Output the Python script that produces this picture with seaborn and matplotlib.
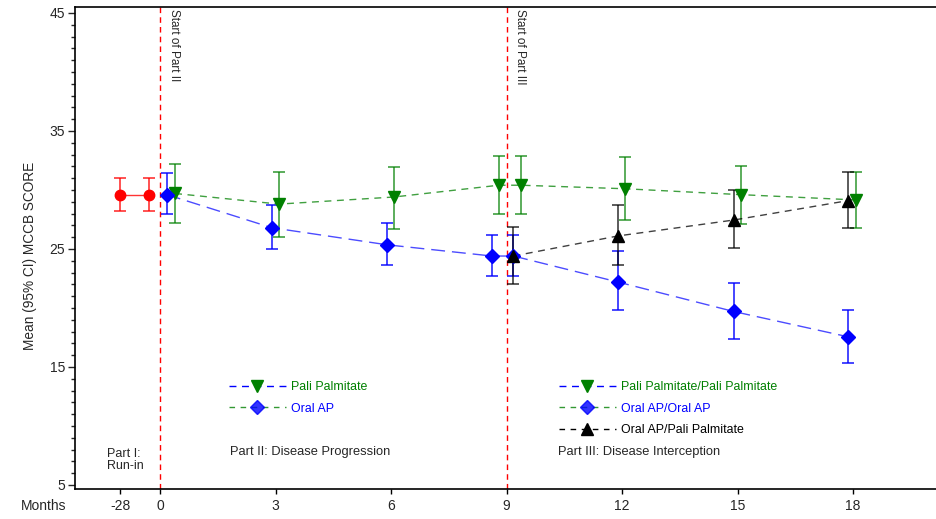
import numpy as np
import matplotlib
matplotlib.use("Agg")
import matplotlib.pyplot as plt
from matplotlib.lines import Line2D
from matplotlib.ticker import MultipleLocator
import seaborn as sns

# Datos (posicion en eje x, media, limites IC 95%)
run_x = [-1.04, -0.29]
run_y = [29.6, 29.6]
run_lo = [28.25, 28.25]
run_hi = [31.05, 31.05]

oral_x = [0.18, 2.90, 5.90, 8.62, 9.18, 11.89, 14.90, 17.88]
oral_y = [29.6, 26.8, 25.35, 24.4, 24.4, 22.2, 19.7, 17.55]
oral_lo = [28.0, 25.0, 23.6, 22.7, 22.7, 19.8, 17.4, 15.35]
oral_hi = [31.4, 28.75, 27.2, 26.2, 26.2, 24.85, 22.15, 19.8]

pali_x = [0.39, 3.09, 6.07, 8.80, 9.37, 12.08, 15.09, 18.08]
pali_y = [29.7, 28.8, 29.4, 30.4, 30.4, 30.1, 29.6, 29.15]
pali_lo = [27.2, 26.05, 26.7, 28.0, 28.0, 27.45, 27.1, 26.8]
pali_hi = [32.2, 31.55, 31.95, 32.9, 32.9, 32.75, 32.05, 31.55]

switch_x = [9.18, 11.89, 14.90, 17.88]
switch_y = [24.4, 26.1, 27.45, 29.1]
switch_lo = [22.0, 23.6, 25.1, 26.8]
switch_hi = [26.9, 28.7, 30.0, 31.55]

tick_pos = [-1.04, 0, 3, 6, 9, 12, 15, 18]
tick_lab = ['-28', '0', '3', '6', '9', '12', '15', '18']

sns.set_style("ticks")
plt.rcParams['font.family'] = ['Liberation Sans', 'DejaVu Sans']

fig = plt.figure(figsize=(9.37, 5.19), dpi=100)
ax = fig.add_axes([0.080, 0.0578, 0.92, 0.9287])

def serie(x, y, lo, hi, color, marker, ms, dash, alpha=1.0, lalpha=1.0):
    x = np.array(x); y = np.array(y)
    err = [y - np.array(lo), np.array(hi) - y]
    ax.errorbar(x, y, yerr=err, fmt='none', ecolor=color, elinewidth=1.2,
                capsize=4, capthick=1.2, alpha=alpha, zorder=2)
    sns.lineplot(x=x, y=y, ax=ax, color=color, linewidth=1, alpha=lalpha, zorder=3)
    ln = ax.lines[-1]
    if dash is not None:
        ln.set_dashes(dash)
    ax.plot(x, y, linestyle='none', marker=marker, markersize=ms, color=color,
            markeredgecolor=color, zorder=4)

serie(run_x, run_y, run_lo, run_hi, 'red', 'o', 7.5, None, alpha=0.8, lalpha=0.8)
serie(pali_x, pali_y, pali_lo, pali_hi, 'green', 'v', 9, (5, 4), alpha=0.75, lalpha=0.75)
serie(oral_x, oral_y, oral_lo, oral_hi, 'blue', 'D', 7, (10, 5), alpha=0.85, lalpha=0.7)
serie(switch_x, switch_y, switch_lo, switch_hi, 'black', '^', 9, (5, 4), alpha=0.75, lalpha=0.75)

for xv in [0, 9]:
    ax.axvline(xv, color='red', linestyle=(0, (4, 3)), linewidth=1, zorder=1)
narrow = ['Liberation Sans Narrow', 'Liberation Sans', 'DejaVu Sans']
ax.text(0.2, 45.3, 'Start of Part II', rotation=-90, ha='left', va='top',
        fontsize=8.5, family=narrow)
ax.text(9.2, 45.3, 'Start of Part III', rotation=-90, ha='left', va='top',
        fontsize=8.5, family=narrow)

ax.set_xlim(-2.21, 20.18)
ax.set_ylim(4.66, 45.5)
ax.set_xticks(tick_pos)
ax.set_xticklabels(tick_lab)
ax.set_yticks([5, 15, 25, 35, 45])
ax.yaxis.set_minor_locator(MultipleLocator(1))
ax.tick_params(axis='x', length=3.5, width=1, labelsize=10, pad=4, color='black')
ax.tick_params(axis='y', which='major', length=5, width=1, labelsize=10, pad=2)
ax.tick_params(axis='y', which='minor', length=3, width=1)
ax.set_ylabel('Mean (95% CI) MCCB SCORE', fontsize=9.8)
ax.yaxis.set_label_coords(-0.044, 0.483)
for s in ['left', 'bottom', 'top']:
    ax.spines[s].set_color('black')
    ax.spines[s].set_linewidth(1.2)
ax.spines['right'].set_visible(False)
fig.text(66 / 937, 1 - 506 / 519, 'Months', ha='right', va='center', fontsize=10)

# Textos de las fases
ax.text(-1.38, 7.1, 'Part I:\nRun-in', fontsize=9, ha='left', va='center', linespacing=1.05)
ax.text(1.82, 7.8, 'Part II: Disease Progression', fontsize=9.3, ha='left', va='center')
ax.text(10.34, 7.8, 'Part III: Disease Interception', fontsize=9.3, ha='left', va='center')

# Leyendas (como en el original, linea y marcador con colores cruzados)
leg_kw = dict(frameon=False, fontsize=8.9, loc='upper left', bbox_transform=fig.transFigure,
              borderpad=0, borderaxespad=0, handlelength=4.6, handletextpad=0.45,
              labelspacing=0.78)
h1 = [Line2D([], [], color='blue', dashes=(5, 4), lw=1, marker='v', markersize=9,
             markerfacecolor='green', markeredgecolor='green'),
      Line2D([], [], color='green', alpha=0.8, dashes=(4, 4), lw=1, marker='D', markersize=7,
             markerfacecolor='blue', markeredgecolor='blue')]
leg1 = ax.legend(h1, ['Pali Palmitate', 'Oral AP'], bbox_to_anchor=(229 / 937, 1 - 381 / 519),
                 **leg_kw)
for t, c in zip(leg1.get_texts(), ['green', 'blue']):
    t.set_color(c)
ax.add_artist(leg1)

h2 = [Line2D([], [], color='blue', dashes=(5, 4), lw=1, marker='v', markersize=9,
             markerfacecolor='green', markeredgecolor='green'),
      Line2D([], [], color='green', alpha=0.8, dashes=(4, 4), lw=1, marker='D', markersize=7,
             markerfacecolor='blue', markeredgecolor='blue'),
      Line2D([], [], color='black', dashes=(4, 4), lw=1, marker='^', markersize=9,
             markerfacecolor='black', markeredgecolor='black')]
leg2 = ax.legend(h2, ['Pali Palmitate/Pali Palmitate', 'Oral AP/Oral AP', 'Oral AP/Pali Palmitate'],
                 bbox_to_anchor=(559 / 937, 1 - 381 / 519), **leg_kw)
for t, c in zip(leg2.get_texts(), ['green', 'blue', 'black']):
    t.set_color(c)

fig.savefig('out.png', dpi=100)
